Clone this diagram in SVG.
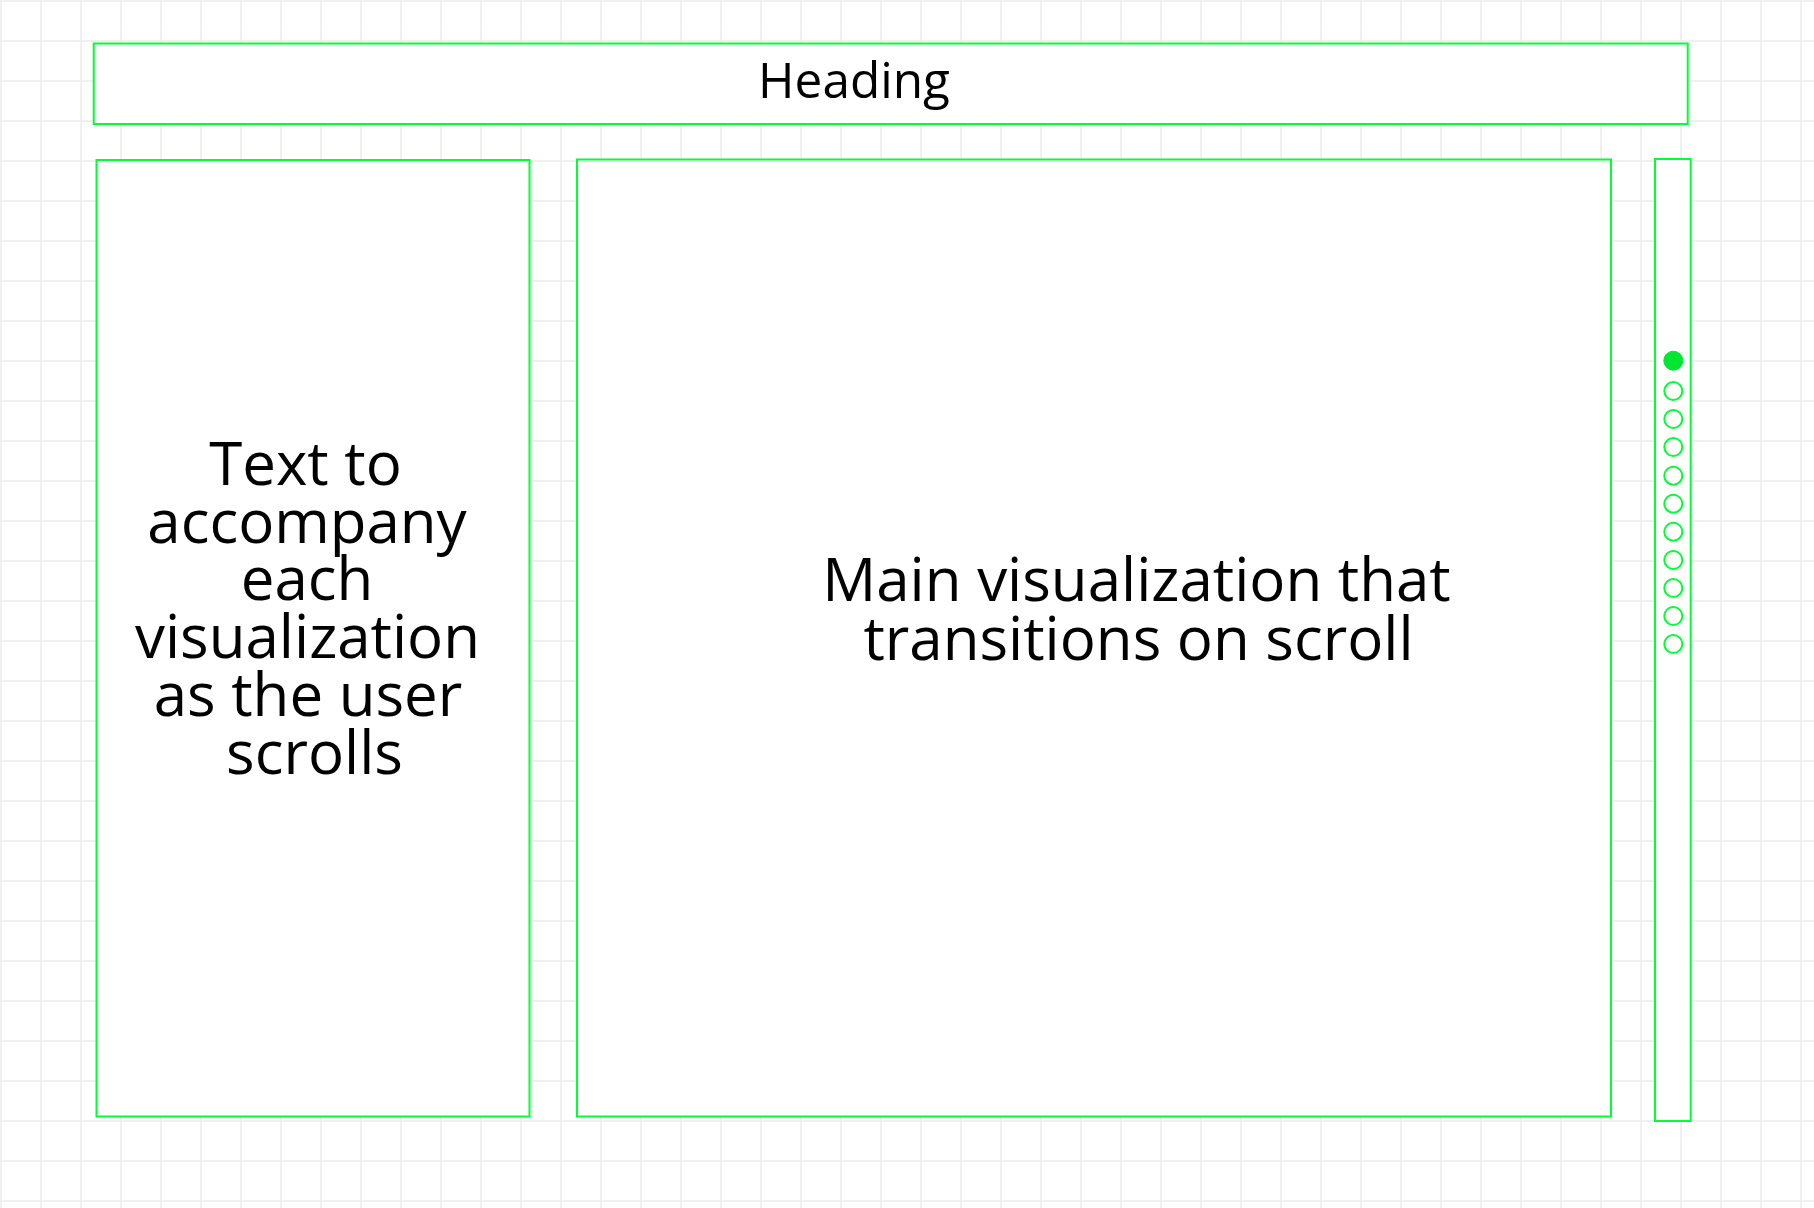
<svg xmlns="http://www.w3.org/2000/svg" width="1814" height="1208" viewBox="0 0 1814 1208">
  <defs>
    <pattern id="grid" x="0" y="0" width="40" height="40" patternUnits="userSpaceOnUse">
      <path d="M0 1 H40 M1 0 V40" fill="none" stroke="#f0f0f0" stroke-width="2"/>
    </pattern>
  </defs>
  <style>
    .box { fill: #ffffff; stroke: #00ff33; stroke-width: 2; }
    .dot { fill: #ffffff; stroke: #00ff33; stroke-width: 2; }
    .dot-on { fill: #00e633; stroke: #00e633; stroke-width: 1; }
    .lbl { font-family: "Open Sans", "Noto Sans", "DejaVu Sans", sans-serif; fill: #000000; text-anchor: middle; }
    .big { font-size: 60px; }
  </style>
  <rect x="0" y="0" width="1814" height="1208" fill="#ffffff"/>
  <rect x="0" y="0" width="1814" height="1208" fill="url(#grid)"/>

  <g id="heading">
    <rect class="box" x="93.7" y="43.5" width="1594" height="80.5"/>
    <text class="lbl" x="854" y="98" font-size="49.5">Heading</text>
  </g>

  <g id="side-text">
    <rect class="box" x="96.5" y="160" width="433" height="956.5"/>
    <text class="lbl big" x="305.5" y="485">Text to</text>
    <text class="lbl big" x="307" y="542.7">accompany</text>
    <text class="lbl big" x="307" y="600.4">each</text>
    <text class="lbl big" x="307.5" y="658.1">visualization</text>
    <text class="lbl big" x="308" y="715.8">as the user</text>
    <text class="lbl big" x="314.5" y="773.5">scrolls</text>
  </g>

  <g id="main-vis">
    <rect class="box" x="577" y="159.5" width="1034" height="957"/>
    <text class="lbl big" x="1136.5" y="600.7">Main visualization that</text>
    <text class="lbl big" x="1138.5" y="659.5">transitions on scroll</text>
  </g>

  <g id="scroll-bar">
    <rect class="box" x="1655" y="159" width="35.7" height="962"/>
    <circle class="dot-on" cx="1673.3" cy="360.7" r="9.5"/>
    <circle class="dot" cx="1673.3" cy="391" r="9"/>
    <circle class="dot" cx="1673.3" cy="419" r="9"/>
    <circle class="dot" cx="1673.3" cy="447" r="9"/>
    <circle class="dot" cx="1673.3" cy="475.7" r="9"/>
    <circle class="dot" cx="1673.3" cy="503.7" r="9"/>
    <circle class="dot" cx="1673.3" cy="531.7" r="9"/>
    <circle class="dot" cx="1673.3" cy="560" r="9"/>
    <circle class="dot" cx="1673.3" cy="588" r="9"/>
    <circle class="dot" cx="1673.3" cy="616" r="9"/>
    <circle class="dot" cx="1673.3" cy="644" r="9"/>
  </g>

  <g id="connectors"></g>
</svg>
